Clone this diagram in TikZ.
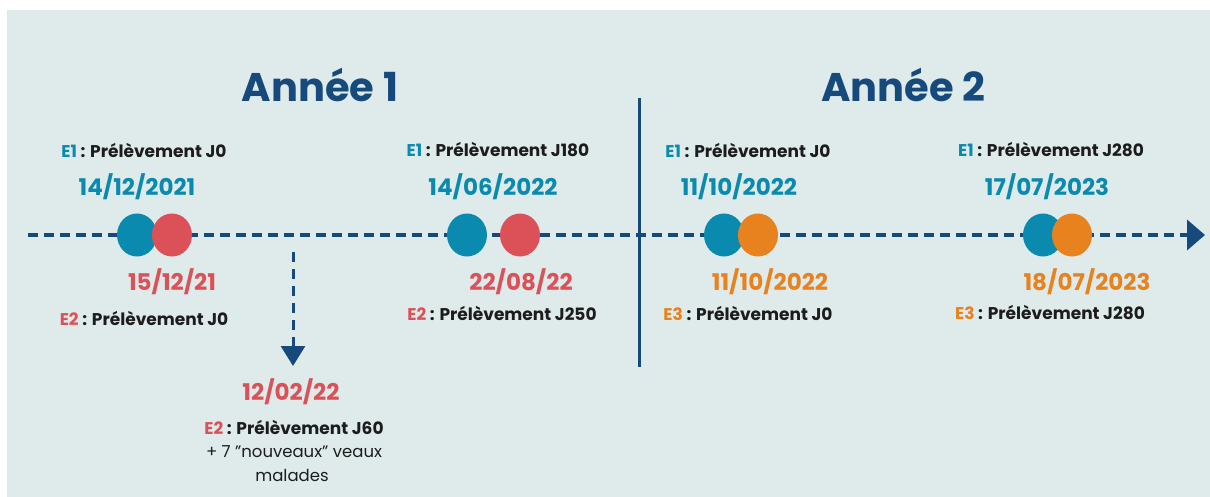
\documentclass[tikz,border=0pt]{standalone}
\usepackage{fontspec}
\setmainfont{Poppins}
\usetikzlibrary{arrows.meta,shapes.geometric}

\definecolor{fond}{HTML}{DFEBEB}
\definecolor{navy}{HTML}{174A7C}
\definecolor{eun}{HTML}{0A8AAF}
\definecolor{edeux}{HTML}{DC5158}
\definecolor{etrois}{HTML}{E8821E}
\definecolor{encre}{HTML}{1C1C1C}

\tikzset{
  pastille/.style={ellipse,minimum width=40pt,minimum height=43pt,inner sep=0pt},
  date/.style={font=\bfseries\fontsize{23}{27}\selectfont},
  prelev/.style={font=\bfseries\fontsize{17}{20}\selectfont,text=encre},
  annee/.style={font=\bfseries\fontsize{40}{46}\selectfont,text=navy},
  remarque/.style={font=\fontsize{16.5}{20}\selectfont,text=encre}
}
\newcommand{\prel}[2]{\textcolor{#1}{#2} : Prélèvement}

\begin{document}
\begin{tikzpicture}[x=1pt,y=-1pt]
\useasboundingbox (0,0) rectangle (1210,497);
\fill [fond] (7,10) rectangle (1210,497);

% titres
\node [annee] (an1) at (320,85) {Année 1};
\node [annee] (an2) at (903,85) {Année 2};

% separation des annees
\coordinate (sephaut) at (639,98);
\coordinate (sepbas) at (639,367);
\draw [navy,line width=3pt] (sephaut) -- (sepbas);

% frise
\coordinate (debut) at (28,235);
\coordinate (fin) at (1205,235);
\draw [navy,line width=4pt,dash pattern=on 10pt off 6pt,-{Triangle[length=18pt,width=30pt]}] (debut) -- (fin);

% branche du 12/02/22
\coordinate (branche) at (293,252);
\coordinate (branchefin) at (293,366);
\draw [navy,line width=3pt,dash pattern=on 10pt off 7pt,-{Triangle[length=20pt,width=24pt]}] (branche) -- (branchefin);

% pastilles
\node [pastille,fill=eun] (c1) at (137,235) {};
\node [pastille,fill=edeux] (c2) at (172,235) {};
\node [pastille,fill=eun] (c3) at (467,235) {};
\node [pastille,fill=edeux] (c4) at (520,235) {};
\node [pastille,fill=eun] (c5) at (724,235) {};
\node [pastille,fill=etrois] (c6) at (758,235) {};
\node [pastille,fill=eun] (c7) at (1043,235) {};
\node [pastille,fill=etrois] (c8) at (1072,235) {};

% dates et prelevements
\node [prelev] (p1) at (144,150) {\prel{eun}{E1} J0};
\node [date,text=eun] (d1) at (137,187) {14/12/2021};
\node [date,text=edeux] (d2) at (172,282) {15/12/21};
\node [prelev] (p2) at (144,318) {\prel{edeux}{E2} J0};

\node [prelev] (p3) at (498,150) {\prel{eun}{E1} J180};
\node [date,text=eun] (d3) at (493,187) {14/06/2022};
\node [date,text=edeux] (d4) at (521,282) {22/08/22};
\node [prelev] (p4) at (502,313) {\prel{edeux}{E2} J250};

\node [prelev] (p5) at (748,150) {\prel{eun}{E1} J0};
\node [date,text=eun] (d5) at (739,187) {11/10/2022};
\node [date,text=etrois] (d6) at (770,282) {11/10/2022};
\node [prelev] (p6) at (748,313) {\prel{etrois}{E3} J0};

\node [prelev] (p7) at (1051,150) {\prel{eun}{E1} J280};
\node [date,text=eun] (d7) at (1047,187) {17/07/2023};
\node [date,text=etrois] (d8) at (1087,282) {18/07/2023};
\node [prelev] (p8) at (1050,313) {\prel{etrois}{E3} J280};

\node [date,text=edeux] (d9) at (291,392) {12/02/22};
\node [prelev] (p9) at (294,427) {\prel{edeux}{E2} J60};
\node [remarque] (r1) at (294,452) {+ 7 \symbol{34}nouveaux\symbol{34} veaux};
\node [remarque] (r2) at (292,475) {malades};

\end{tikzpicture}
\end{document}
